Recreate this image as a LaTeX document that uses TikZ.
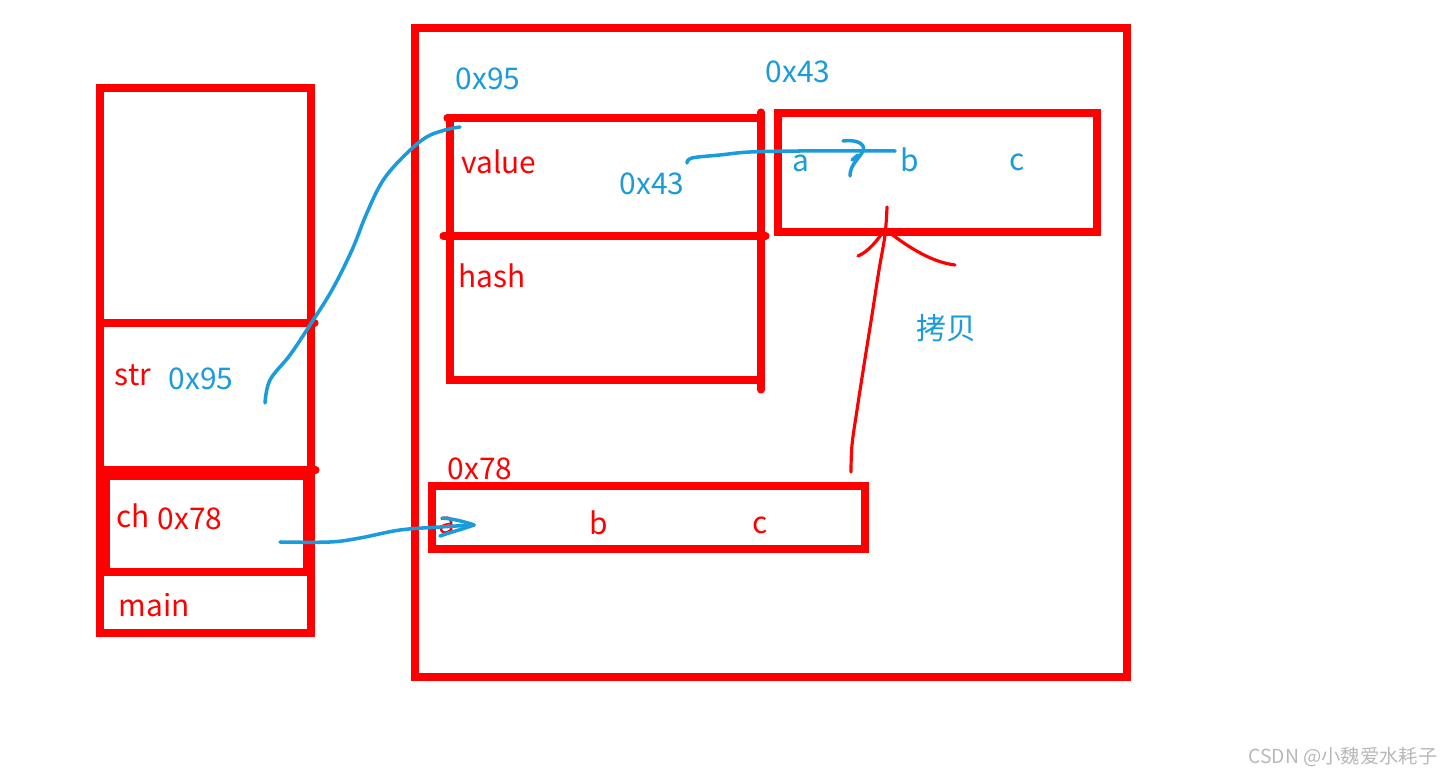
\documentclass[tikz,border=0pt]{standalone}
\usepackage{fontspec}
\setmainfont{Noto Sans CJK SC}
\usetikzlibrary{arrows.meta,calc,positioning}
\definecolor{boxRed}{HTML}{FF0000}
\definecolor{penBlue}{HTML}{1A9BDB}
\definecolor{markGray}{HTML}{B8B8B8}
\tikzset{
    frame/.style={draw=boxRed, line width=4pt, line cap=round},
    pen blue/.style={penBlue, line width=2pt, line cap=round, line join=round},
    pen red/.style={boxRed, line width=1.8pt, line cap=round, line join=round},
    red text/.style={text=boxRed, inner sep=0pt, font=\fontsize{17}{20}\selectfont},
    blue text/.style={text=penBlue, inner sep=0pt, font=\fontsize{17}{20}\selectfont},
    mark text/.style={text=markGray, inner sep=0pt, font=\fontsize{11}{13}\selectfont},
}

\begin{document}
\begin{tikzpicture}[x=0.02cm, y=-0.02cm]
\useasboundingbox[fill=white] (0,0) rectangle (1445,776);

% Stack frame of main: str and ch.
\draw[frame] (100,88) rectangle (311,633);
\draw[frame] (100,323) -- (315,323);
\draw[frame] (100,470) -- (316,470);
\draw[frame] (106,476) rectangle (307,572);
\node[red text] (strLbl) at (133,375) {str};
\node[blue text] (strAddr) at (201,379) {0x95};
\node[red text] (chLbl) at (133,516) {ch};
\node[red text] (chAddr) at (190,519) {0x78};
\node[red text] (mainLbl) at (154,605) {main};

% Heap with the string object and both character arrays.
\draw[frame] (415,28) rectangle (1127,677);
\draw[frame] (447,118) -- (760,118);
\draw[frame] (450,118) -- (450,380) -- (760,380);
\draw[frame] (761,112) -- (761,390);
\draw[frame] (443,236) -- (766,236);
\node[blue text] (objAddr) at (488,79) {0x95};
\node[red text] (valueLbl) at (499,162) {value};
\node[blue text] (valueAddr) at (652,184) {0x43};
\node[red text] (hashLbl) at (492,276) {hash};

\draw[frame] (778,113) rectangle (1097,232);
\node[blue text] (copyAddr) at (798,72) {0x43};
\node[blue text] (copyA) at (801,163) {a};
\node[blue text] (copyB) at (910,160) {b};
\node[blue text] (copyC) at (1017,162) {c};

\draw[frame] (432,486) rectangle (865,549);
\node[red text] (arrAddr) at (480,469) {0x78};
\node[red text] (arrA) at (447,525) {a};
\node[red text] (arrB) at (599,523) {b};
\node[red text] (arrC) at (760,525) {c};

\node[blue text] (copyLbl) at (946,328) {拷贝};

% Hand-drawn pointers.
\coordinate (strTail) at (265,403);
\coordinate (objHead) at (460,127);
\draw[pen blue] plot[smooth, tension=0.6] coordinates {(strTail) (270,380) (290,355)
    (310,325) (332,290) (352,250) (366,215) (382,182) (402,158) (425,138)
    (445,130) (objHead)};

\coordinate (valTail) at (687,163);
\coordinate (valHead) at (895,151);
\draw[pen blue] plot[smooth, tension=0.6] coordinates {(valTail) (692,158)
    (720,155) (750,152) (800,151) (valHead)};
\draw[pen blue] (843,141) .. controls (858,139) and (866,145) .. (863,151)
    .. controls (858,160) and (850,165) .. (850,176);
\draw[pen blue] (852,160) -- (858,155);

\coordinate (chTail) at (280,542);
\coordinate (chHead) at (474,525);
\draw[pen blue] plot[smooth, tension=0.6] coordinates {(chTail) (330,542)
    (360,538) (400,530) (440,527) (chHead)};
\draw[pen blue] (442,518) .. controls (455,519) and (465,522) .. (chHead)
    .. controls (460,530) and (448,533) .. (440,536);

\coordinate (copyTail) at (851,472);
\coordinate (copyHead) at (887,207);
\draw[pen red] plot[smooth, tension=0.6] coordinates {(copyTail) (852,445)
    (857,410) (864,365) (872,315) (879,270) (885,235) (copyHead)};
\draw[pen red] (858,256) .. controls (868,252) and (878,240) .. (885,229)
    .. controls (905,245) and (930,262) .. (955,265);

\node[mark text] (watermark) at (1343,757) {CSDN @小魏爱水耗子};

\end{tikzpicture}
\end{document}
